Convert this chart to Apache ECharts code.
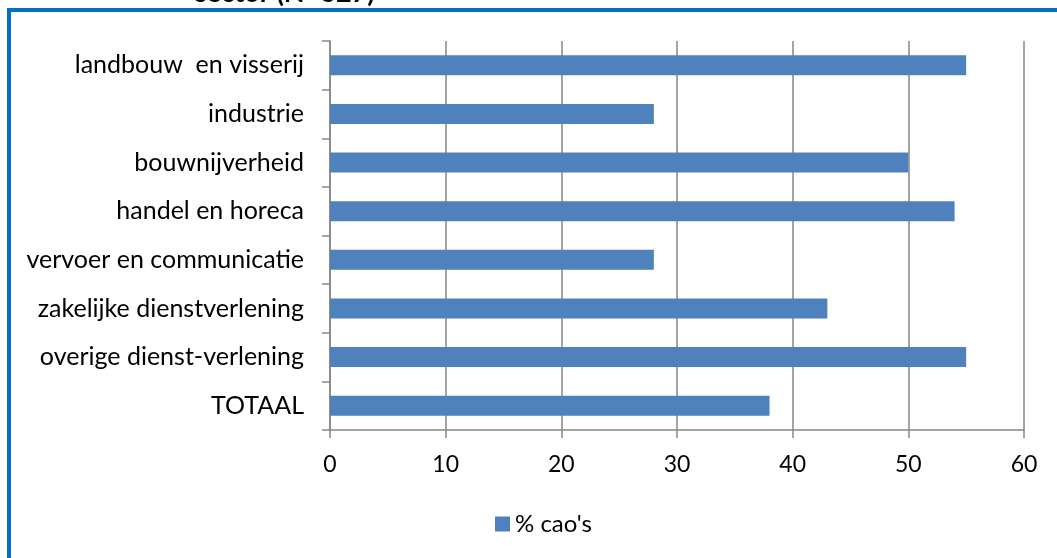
<!DOCTYPE html>
<html>
<head>
<meta charset="utf-8">
<script src="https://cdn.jsdelivr.net/npm/echarts@6/dist/echarts.min.js"></script>
<style>
html,body{margin:0;padding:0;background:#fff;}
#chart{width:1057px;height:558px;}
</style>
</head>
<body>
<div id="chart"></div>
<script>
const categories = ["landbouw  en visserij","industrie","bouwnijverheid","handel en horeca","vervoer en communicatie","zakelijke dienstverlening","overige dienst-verlening","TOTAAL"];
const values = [55, 28, 50, 54, 28, 43, 55, 38];
const seriesName = "% cao's";
const titleText = "sector (N=627)";

const FONT = "Lato";
const chart = echarts.init(document.getElementById('chart'));
chart.setOption({
  animation: false,
  backgroundColor: '#fff',
  textStyle: {fontFamily: FONT},
  graphic: [
    {type: 'rect', shape: {x: 9, y: 10, width: 1100, height: 600}, style: {fill: 'none', stroke: '#0070C0', lineWidth: 4}, z: 10},
    {type: 'text', left: 195, top: -20, style: {text: titleText, font: 'bold 27px Lato', fill: '#000'}, z: 5}
  ],
  grid: {left: 330, right: 33, top: 41, bottom: 128},
  xAxis: {
    type: 'value', min: 0, max: 60, interval: 10,
    axisLine: {show: true, lineStyle: {color: '#868686', width: 1.5}},
    axisTick: {show: true, length: 8, lineStyle: {color: '#868686', width: 1.5}},
    splitLine: {show: true, lineStyle: {color: '#868686', width: 1.5}},
    axisLabel: {color: '#000', fontSize: 23, margin: 23, fontFamily: FONT}
  },
  yAxis: {
    type: 'category', data: categories, inverse: true,
    axisLine: {show: true, lineStyle: {color: '#868686', width: 1.5}},
    axisTick: {show: true, length: 8, lineStyle: {color: '#868686', width: 1.5}},
    axisLabel: {color: '#000', fontSize: 25, margin: 26, fontFamily: FONT}
  },
  legend: {
    data: [seriesName], left: 490, top: 507, itemWidth: 15, itemHeight: 15, itemGap: 8,
    icon: 'rect', textStyle: {fontSize: 24, color: '#000', fontFamily: FONT}
  },
  series: [{
    name: seriesName, type: 'bar', data: values, barWidth: 20,
    itemStyle: {color: '#4F81BD'}
  }]
});
</script>
</body>
</html>
